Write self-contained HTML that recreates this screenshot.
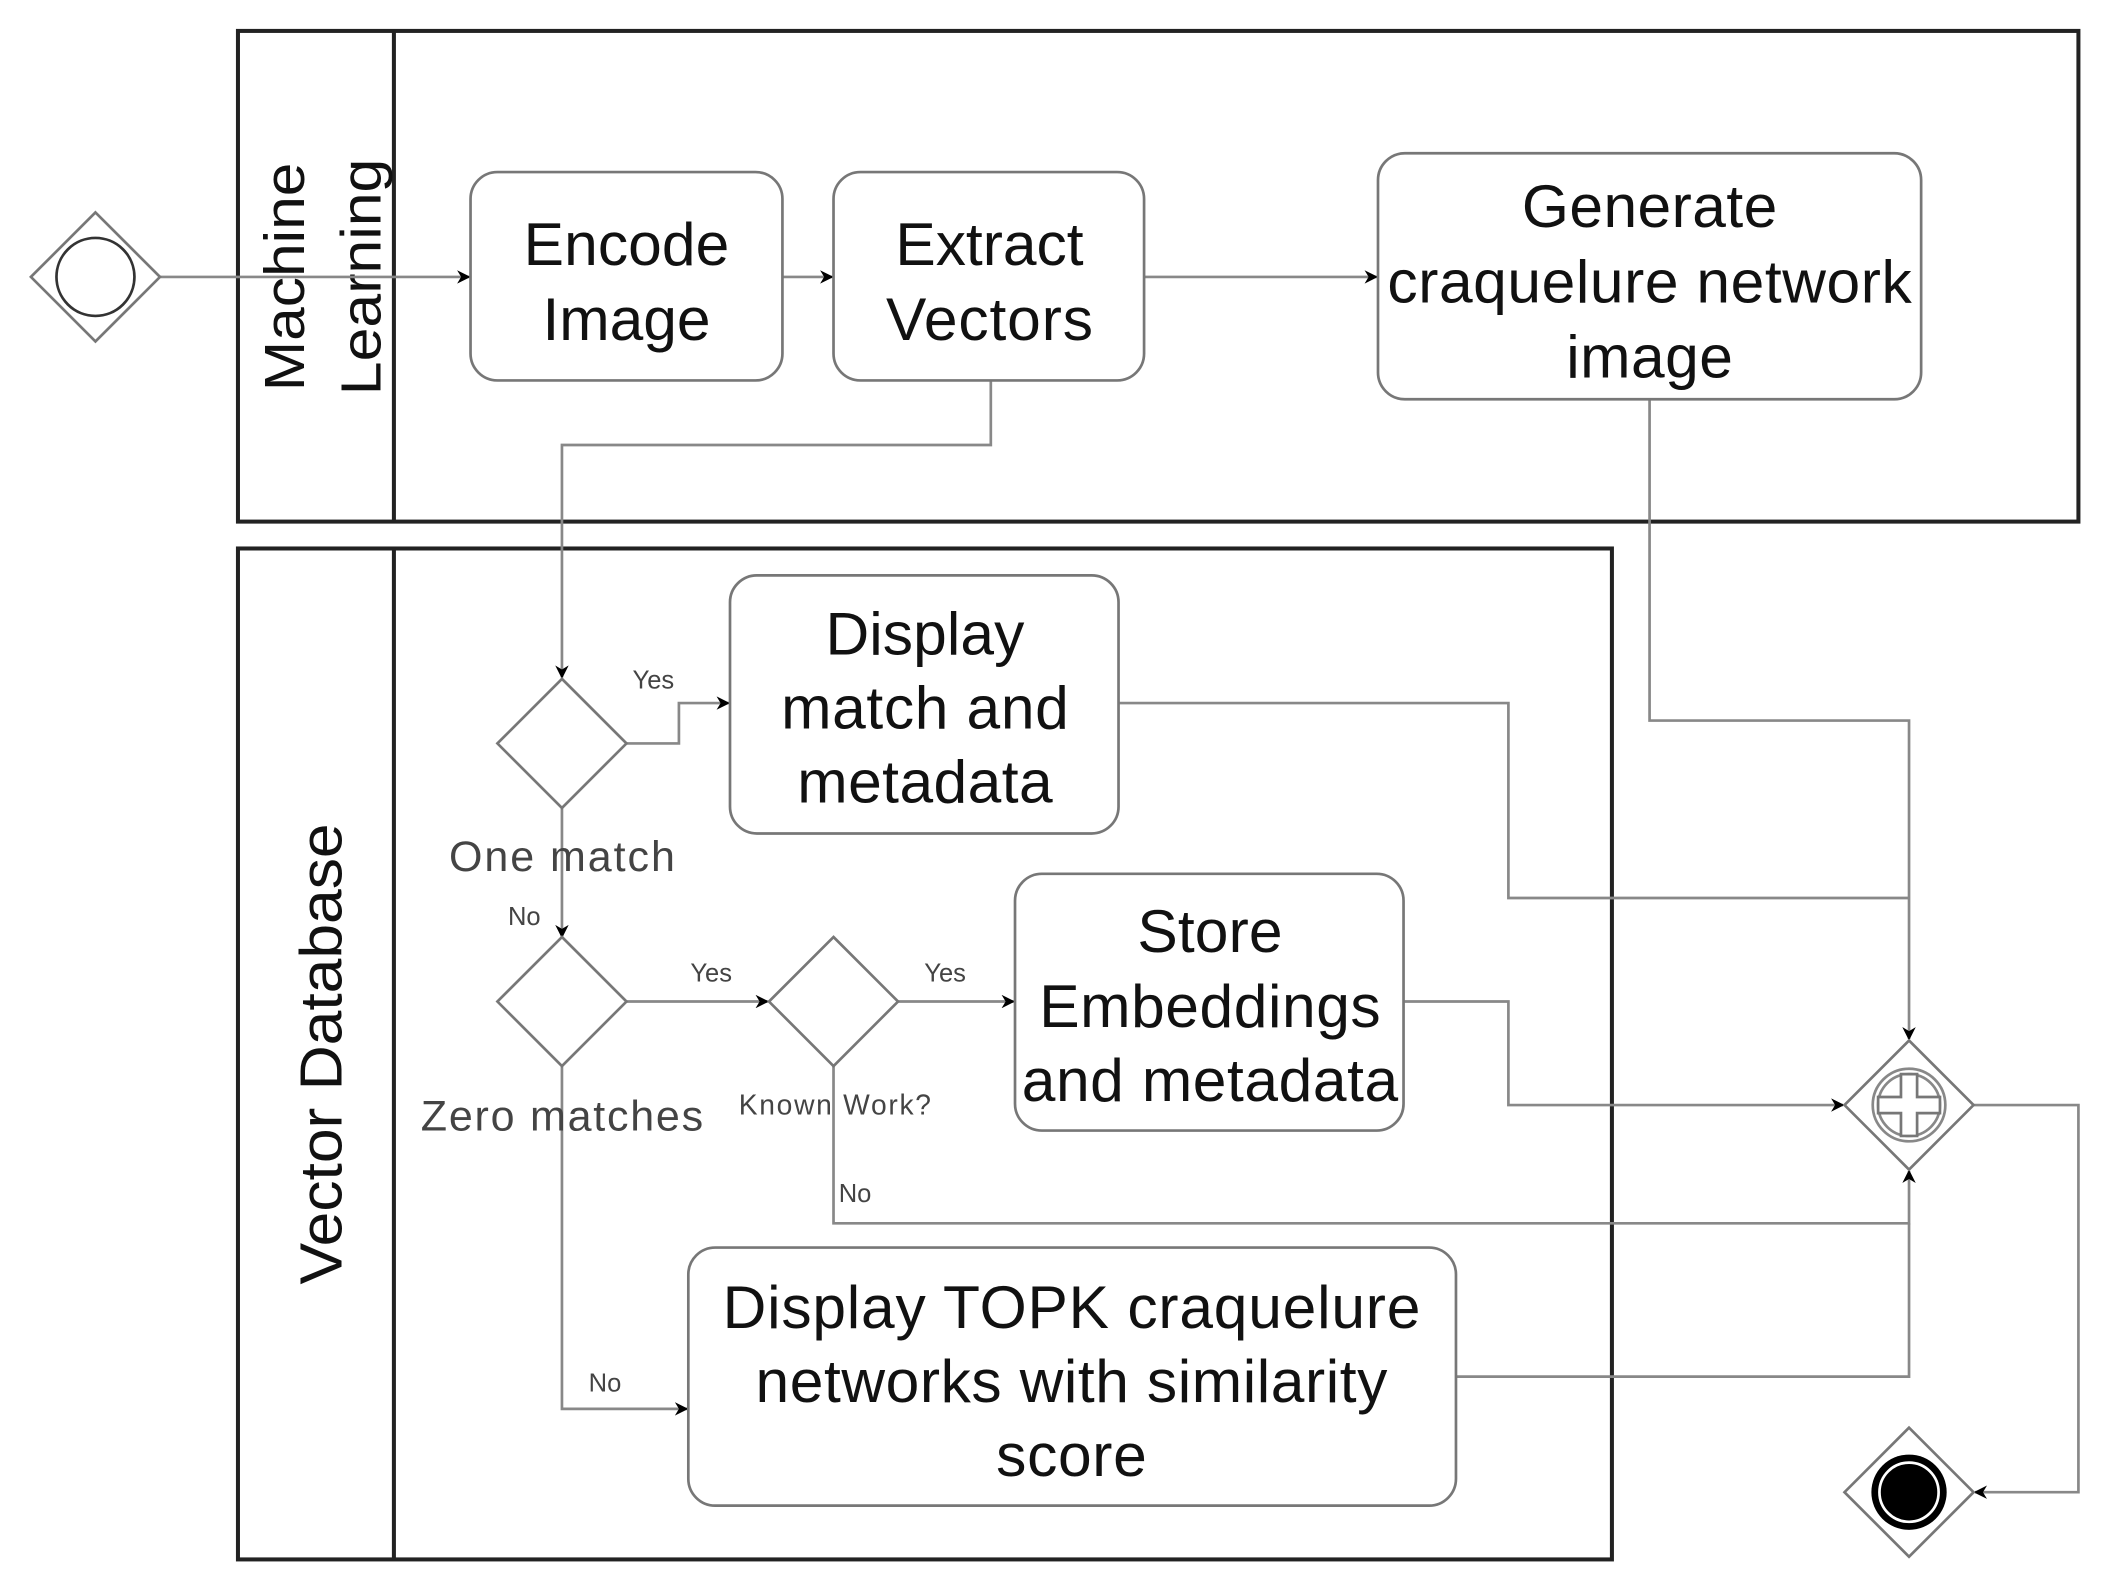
<!DOCTYPE html>
<html><head><style>html,body{margin:0;padding:0;background:#fff}svg{display:block}</style></head>
<body>
<svg width="2108" height="1589" viewBox="0 0 1568 1182" preserveAspectRatio="none" xmlns="http://www.w3.org/2000/svg" font-family="Liberation Sans, sans-serif">
<defs>
<marker id="a" markerWidth="10" markerHeight="10" refX="9" refY="5" orient="auto" markerUnits="userSpaceOnUse"><path d="M0,0 L10,5 L0,10 L3,5 z" fill="#000"/></marker>
</defs>
<g fill="none" stroke="#222" stroke-width="3">
<rect x="177" y="23" width="1369" height="365"/>
<line x1="293" y1="23" x2="293" y2="388"/>
<rect x="177" y="408" width="1022" height="752"/>
<line x1="293" y1="408" x2="293" y2="1160"/>
</g>
<text transform="translate(226,206) rotate(-90)" text-anchor="middle" font-size="42" fill="#111" textLength="170" lengthAdjust="spacingAndGlyphs">Machine</text>
<text transform="translate(283,206) rotate(-90)" text-anchor="middle" font-size="42" fill="#111" textLength="176" lengthAdjust="spacingAndGlyphs">Learning</text>
<text transform="translate(254,784) rotate(-90)" text-anchor="middle" font-size="44" fill="#111" textLength="343" lengthAdjust="spacingAndGlyphs">Vector Database</text>
<g fill="none" stroke="#888" stroke-width="2">
<line x1="119" y1="206" x2="349" y2="206" marker-end="url(#a)"/>
<line x1="582" y1="206" x2="619" y2="206" marker-end="url(#a)"/>
<line x1="851" y1="206" x2="1024" y2="206" marker-end="url(#a)"/>
<polyline points="737,283 737,331 418,331 418,504" marker-end="url(#a)"/>
<polyline points="466,553 505,553 505,523 542,523" marker-end="url(#a)"/>
<line x1="418" y1="601" x2="418" y2="697" marker-end="url(#a)"/>
<line x1="466" y1="745" x2="571" y2="745" marker-end="url(#a)"/>
<line x1="668" y1="745" x2="754" y2="745" marker-end="url(#a)"/>
<polyline points="418,793 418,1048 511,1048" marker-end="url(#a)"/>
<polyline points="620,793 620,910 1420,910 1420,871" marker-end="url(#a)"/>
<polyline points="1227,297 1227,536 1420,536 1420,773" marker-end="url(#a)"/>
<polyline points="832,523 1122,523 1122,668 1420,668"/>
<polyline points="1044,745 1122,745 1122,822 1371,822" marker-end="url(#a)"/>
<polyline points="1083,1024 1420,1024 1420,910"/>
<polyline points="1468,822 1546,822 1546,1110 1469,1110" marker-end="url(#a)"/>
</g>
<g fill="#fff" stroke="#777" stroke-width="2">
<rect x="350" y="128" width="232" height="155" rx="20"/>
<rect x="620" y="128" width="231" height="155" rx="20"/>
<rect x="1025" y="114" width="404" height="183" rx="20"/>
<rect x="543" y="428" width="289" height="192" rx="20"/>
<rect x="755" y="650" width="289" height="191" rx="20"/>
<rect x="512" y="928" width="571" height="192" rx="20"/>
<polygon points="71,158 119,206 71,254 23,206"/>
<polygon points="418,505 466,553 418,601 370,553"/>
<polygon points="418,697 466,745 418,793 370,745"/>
<polygon points="620,697 668,745 620,793 572,745"/>
<polygon points="1420,774 1468,822 1420,870 1372,822"/>
<polygon points="1420,1062 1468,1110 1420,1158 1372,1110"/>
</g>
<circle cx="71" cy="206" r="29" fill="none" stroke="#333" stroke-width="2"/>
<circle cx="1420" cy="822" r="27" fill="none" stroke="#888" stroke-width="2"/>
<circle cx="1420" cy="822" r="23" fill="none" stroke="#888" stroke-width="2"/>
<path d="M1414,799 h12 v17 h17 v12 h-17 v17 h-12 v-17 h-17 v-12 h17 z" fill="#fff" stroke="#777" stroke-width="2"/>
<circle cx="1420" cy="1110" r="28" fill="#000"/>
<circle cx="1420" cy="1110" r="22" fill="#000" stroke="#fff" stroke-width="2"/>
<g font-size="45" fill="#111" text-anchor="middle" lengthAdjust="spacingAndGlyphs">
<text x="466" y="197" textLength="153">Encode</text><text x="466" y="253" textLength="125">Image</text>
<text x="736" y="197" textLength="140">Extract</text><text x="736" y="253" textLength="154">Vectors</text>
<text x="1227" y="169" textLength="190">Generate</text><text x="1227" y="225" textLength="390">craquelure network</text><text x="1227" y="281" textLength="124">image</text>
<text x="688" y="487" textLength="148">Display</text><text x="688" y="542" textLength="214">match and</text><text x="688" y="597" textLength="190">metadata</text>
<text x="900" y="708" textLength="108">Store</text><text x="900" y="764" textLength="254">Embeddings</text><text x="900" y="819" textLength="280">and metadata</text>
<text x="797" y="988" textLength="519">Display TOPK craquelure</text><text x="797" y="1043" textLength="470">networks with similarity</text><text x="797" y="1098" textLength="112">score</text>
</g>
<g fill="#444" text-anchor="middle" lengthAdjust="spacingAndGlyphs">
<text x="418" y="648" font-size="32" textLength="168">One match</text>
<text x="418" y="841" font-size="32" textLength="210">Zero matches</text>
<text x="621" y="829" font-size="21" textLength="143">Known Work?</text>
<text x="486" y="512" font-size="19">Yes</text>
<text x="529" y="730" font-size="19">Yes</text>
<text x="703" y="730" font-size="19">Yes</text>
<text x="390" y="688" font-size="19">No</text>
<text x="636" y="894" font-size="19">No</text>
<text x="450" y="1035" font-size="19">No</text>
</g>
</svg>
</body></html>
